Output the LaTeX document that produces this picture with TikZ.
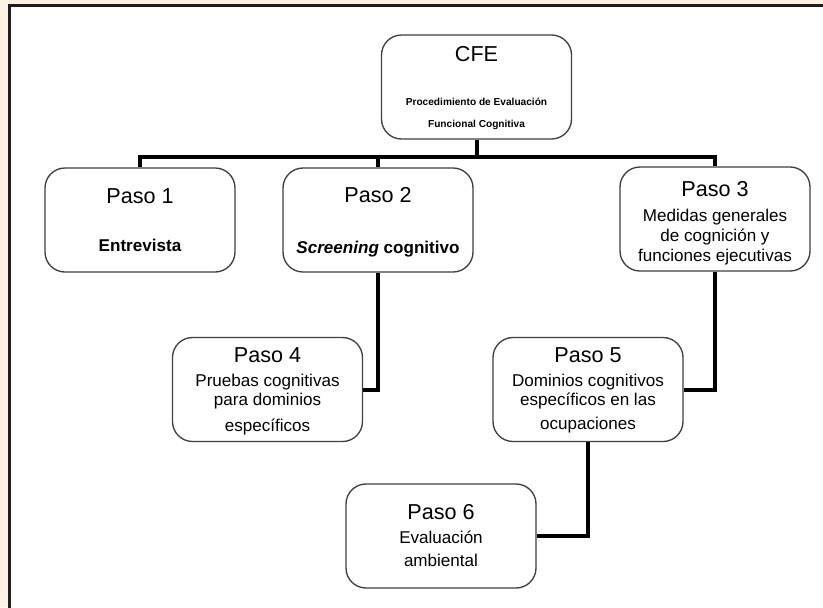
\documentclass[tikz,border=0pt]{standalone}
\usepackage{fontspec}
\setmainfont{Liberation Sans}
\usetikzlibrary{calc}
\definecolor{cream}{RGB}{254,242,229}
\definecolor{edge}{RGB}{64,64,64}
\definecolor{framec}{RGB}{30,30,30}
\begin{document}
\begin{tikzpicture}[x=0.75pt,y=-0.75pt,
  stepbox/.style={draw=edge, line width=1pt, fill=white, rounded corners=15pt,
    minimum width=142.5pt, minimum height=78pt, inner sep=0pt},
  ttl/.style={anchor=base, inner sep=0pt, font=\fontsize{16.2}{19}\selectfont},
  txt/.style={anchor=base, inner sep=0pt, font=\fontsize{12.8}{15}\selectfont},
  txtb/.style={anchor=base, inner sep=0pt, font=\fontsize{12.8}{15}\selectfont\bfseries},
  sub/.style={anchor=base, inner sep=0pt, font=\fontsize{7.6}{9}\selectfont\bfseries},
  link/.style={line width=3pt, black, line join=miter}]

\useasboundingbox (0,0) rectangle (823,607);
\clip (0,0) rectangle (823,607);

% page background and frame
\fill[cream] (0,0) rectangle (823,607);
\draw[line width=1.9pt, framec, fill=white] (9.5,5.3) rectangle (840,620);

% boxes
\node[stepbox] (cfe) at (476.5,87) {};
\node[stepbox] (p1) at (140,220) {};
\node[stepbox] (p2) at (378,220) {};
\node[stepbox] (p3) at (715,219) {};
\node[stepbox] (p4) at (267.5,389.5) {};
\node[stepbox] (p5) at (588,389.5) {};
\node[stepbox] (p6) at (441,536) {};

% texts
\node[ttl] (cfea) at ($(cfe.north)+(0,27.5)$) {CFE};
\node[sub] (cfeb) at ($(cfe.north)+(0,71)$) {Procedimiento de Evaluación};
\node[sub] (cfec) at ($(cfe.north)+(0,92.7)$) {Funcional Cognitiva};

\node[ttl] (p1a) at ($(p1.north)+(0,36)$) {Paso 1};
\node[txtb] (p1b) at ($(p1.north)+(0,84)$) {Entrevista};

\node[ttl] (p2a) at ($(p2.north)+(0,35)$) {Paso 2};
\node[txtb] (p2b) at ($(p2.north)+(0,86)$) {{\itshape Screening} cognitivo};

\node[ttl] (p3a) at ($(p3.north)+(0,30)$) {Paso 3};
\node[txt] (p3b) at ($(p3.north)+(0,54.7)$) {Medidas generales};
\node[txt] (p3c) at ($(p3.north)+(0,74.7)$) {de cognición y};
\node[txt] (p3d) at ($(p3.north)+(0,94.7)$) {funciones ejecutivas};

\node[ttl] (p4a) at ($(p4.north)+(0,25.5)$) {Paso 4};
\node[txt] (p4b) at ($(p4.north)+(0,49.2)$) {Pruebas cognitivas};
\node[txt] (p4c) at ($(p4.north)+(0,68.5)$) {para dominios};
\node[txt] (p4d) at ($(p4.north)+(0,94.2)$) {específicos};

\node[ttl] (p5a) at ($(p5.north)+(0,25.5)$) {Paso 5};
\node[txt] (p5b) at ($(p5.north)+(0,49.2)$) {Dominios cognitivos};
\node[txt] (p5c) at ($(p5.north)+(0,68.5)$) {específicos en las};
\node[txt] (p5d) at ($(p5.north)+(0,92.5)$) {ocupaciones};

\node[ttl] (p6a) at ($(p6.north)+(0,36)$) {Paso 6};
\node[txt] (p6b) at ($(p6.north)+(0,60)$) {Evaluación};
\node[txt] (p6c) at ($(p6.north)+(0,82.7)$) {ambiental};

% connectors
\coordinate (bar) at (0,157);
\draw[link] (cfe.south) -- (cfe.south |- bar);
\draw[link] (p1.north) -- (p1.north |- bar) -- (p3.north |- bar) -- (p3.north);
\draw[link] (p2.north) -- (p2.north |- bar);
\draw[link] (p2.south) |- (p4.east);
\draw[link] (p3.south) |- (p5.east);
\draw[link] (p5.south) |- (p6.east);
\end{tikzpicture}
\end{document}
